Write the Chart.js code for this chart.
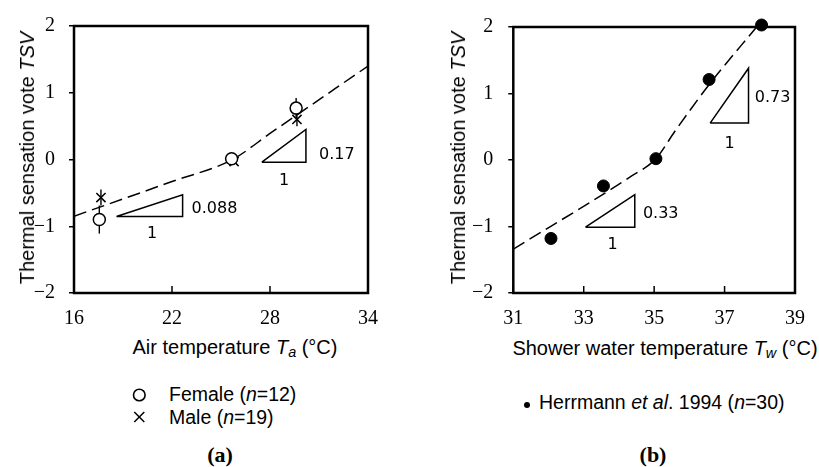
<!DOCTYPE html>
<html>
<head>
<meta charset="utf-8">
<script src="https://cdn.jsdelivr.net/npm/chart.js@4.4.1/dist/chart.umd.min.js"></script>
<style>
body { margin: 0; background: #fff; }
#wrap { position: relative; width: 819px; height: 467px; overflow: hidden; background: #fff; font-family: "Liberation Sans", Arial, sans-serif; color: #000; }
#cvA { position: absolute; left: 0; top: 0; }
#cvB { position: absolute; left: 410px; top: 0; }
.t { position: absolute; white-space: nowrap; line-height: 1; }
.ttl { font-size: 20px; }
.ytl { transform: translate(-50%, -50%) rotate(-90deg); }
.xtl { transform: translateX(-50%); }
.leg { font-size: 19.5px; }
.cap { font-family: "Liberation Serif", "Times New Roman", serif; font-weight: bold; font-size: 22px; transform: translateX(-50%); }
.sb { font-size: 0.72em; font-style: italic; vertical-align: -0.22em; }
</style>
</head>
<body>
<div id="wrap">
  <canvas id="cvA" width="410" height="330"></canvas>
  <canvas id="cvB" width="409" height="330"></canvas>

  <div class="t ttl ytl" style="left:26.5px; top:158px;">Thermal sensation vote <i>TSV</i></div>
  <div class="t ttl ytl" style="left:458px; top:158px;">Thermal sensation vote <i>TSV</i></div>
  <div class="t ttl xtl" style="left:235px; top:337px;">Air temperature <i>T</i><span class="sb">a</span> (°C)</div>
  <div class="t ttl xtl" style="left:665px; top:338px;">Shower water temperature <i>T</i><span class="sb">w</span> (°C)</div>

  <svg style="position:absolute; left:131px; top:387px;" width="17" height="40">
    <circle cx="8.3" cy="8" r="5.8" fill="none" stroke="#000" stroke-width="1.6"/>
    <line x1="3.3" y1="25" x2="13.3" y2="35" stroke="#000" stroke-width="1.5"/>
    <line x1="13.3" y1="25" x2="3.3" y2="35" stroke="#000" stroke-width="1.5"/>
  </svg>
  <div class="t leg" style="left:169px; top:385px;">Female (<i>n</i>=12)</div>
  <div class="t leg" style="left:169px; top:407.5px;">Male (<i>n</i>=19)</div>

  <div style="position:absolute; left:523.7px; top:401.7px; width:6.6px; height:6.6px; border-radius:50%; background:#000;"></div>
  <div class="t leg" style="left:539px; top:393px;">Herrmann <i>et al</i>. 1994 (<i>n</i>=30)</div>

  <div class="t cap" style="left:220px; top:444px;">(a)</div>
  <div class="t cap" style="left:653px; top:444px;">(b)</div>
</div>

<script>
// (a) air temperature
const femaleTa = [17.55, 25.65, 29.6];
const femaleTSV = [-0.9, 0.01, 0.77];
const femaleErr = [0.21, 0.03, 0.15];
const maleTa = [17.65, 25.8, 29.65];
const maleTSV = [-0.57, -0.03, 0.6];
const maleErr = [0.12, 0.03, 0.1];
const fitATa = [16, 22, 25.7, 28, 34];
const fitATSV = [-0.85, -0.33, 0, 0.39, 1.4];
const ticksTa = [16, 22, 28, 34];

// (b) shower water temperature
const waterTw = [32.07, 33.56, 35.05, 36.56, 38.05];
const waterTSV = [-1.18, -0.39, 0.02, 1.21, 2.03];
const fitBTw = [31, 34.3, 35.05, 35.6, 36.6, 37.91];
const fitBTSV = [-1.34, -0.26, 0.02, 0.44, 1.16, 2.0];
const ticksTw = [31, 33, 35, 37, 39];

const ticksTSV = [-2, -1, 0, 1, 2];

// slope triangles: [x start, y base, x end, y top]
const slopesA = [[18.6, -0.855, 22.65, -0.53], [27.5, -0.04, 30.2, 0.45]];
const slopesB = [[33.05, -1.01, 34.45, -0.52], [36.59, 0.555, 37.68, 1.38]];
// slope texts: [x, y, text, align]
const slopeTextA = [[23.2, -0.74, '0.088', 'left'], [20.78, -1.12, '1', 'center'],
                    [31.0, 0.07, '0.17', 'left'], [28.86, -0.32, '1', 'center']];
const slopeTextB = [[34.68, -0.81, '0.33', 'left'], [33.82, -1.27, '1', 'center'],
                    [37.86, 0.93, '0.73', 'left'], [37.14, 0.24, '1', 'center']];

function pts(xs, ys) {
  return xs.map((v, i) => ({x: v, y: ys[i]}));
}

function triangle(s) {
  return {
    data: [{x: s[0], y: s[1]}, {x: s[2], y: s[1]}, {x: s[2], y: s[3]}, {x: s[0], y: s[1]}],
    showLine: true, borderColor: '#000', borderWidth: 1.5, pointRadius: 0,
    fill: false, tension: 0, order: 5
  };
}

const framePlugin = {
  id: 'frame',
  beforeDatasetsDraw(chart, args, opts) {
    const {ctx, scales: {x, y}} = chart;
    ctx.save();
    ctx.strokeStyle = '#000';
    ctx.lineWidth = 1.4;
    (opts.errors || []).forEach(e => {
      e.xs.forEach((xv, i) => {
        const px = x.getPixelForValue(xv);
        ctx.beginPath();
        ctx.moveTo(px, y.getPixelForValue(e.ys[i] - e.err[i]));
        ctx.lineTo(px, y.getPixelForValue(e.ys[i] + e.err[i]));
        ctx.stroke();
      });
    });
    ctx.restore();
  },
  afterDraw(chart, args, opts) {
    const {ctx, chartArea: a, scales: {x, y}} = chart;
    ctx.save();
    ctx.strokeStyle = '#000';
    ctx.lineWidth = 1.5;
    opts.xTicks.forEach(v => {
      const px = x.getPixelForValue(v);
      ctx.beginPath();
      ctx.moveTo(px, a.bottom);
      ctx.lineTo(px, a.bottom - 7);
      ctx.stroke();
    });
    ctx.lineWidth = 2.5;
    ctx.strokeRect(a.left, a.top, a.right - a.left, a.bottom - a.top);
    ctx.font = '16px "DejaVu Sans"';
    ctx.fillStyle = '#000';
    ctx.textBaseline = 'middle';
    opts.labels.forEach(l => {
      ctx.textAlign = l[3];
      ctx.fillText(l[2], x.getPixelForValue(l[0]), y.getPixelForValue(l[1]));
    });
    ctx.restore();
  }
};

function axes(xMin, xMax, xTicks, yWidth, tickPad) {
  const tickFont = {family: '"Liberation Serif", "Times New Roman", serif', size: 20};
  return {
    x: {
      type: 'linear', min: xMin, max: xMax,
      afterBuildTicks: s => { s.ticks = xTicks.map(v => ({value: v})); },
      afterFit: s => { s.height = 330 - 293; },
      grid: {display: false, drawTicks: false},
      border: {display: false},
      ticks: {font: tickFont, color: '#000', padding: 14, maxRotation: 0, autoSkip: false}
    },
    y: {
      type: 'linear', min: -2, max: 2,
      afterBuildTicks: s => { s.ticks = ticksTSV.map(v => ({value: v})); },
      afterFit: s => { s.width = yWidth; },
      grid: {drawOnChartArea: false, drawTicks: true, tickLength: 5, color: '#000', lineWidth: 1.5},
      border: {display: false},
      ticks: {font: tickFont, color: '#000', padding: tickPad,
              callback: v => String(v).replace('-', '\u2212')}
    }
  };
}

const common = {
  responsive: false,
  animation: false,
  events: [],
  plugins: {legend: {display: false}, tooltip: {enabled: false}}
};

new Chart(document.getElementById('cvA'), {
  type: 'scatter',
  data: {
    datasets: [
      {label: 'Female (n=12)', data: pts(femaleTa, femaleTSV), pointStyle: 'circle', pointRadius: 6,
       pointBackgroundColor: '#fff', pointBorderColor: '#000', pointBorderWidth: 1.5, order: 1, clip: false},
      {label: 'Male (n=19)', data: pts(maleTa, maleTSV), pointStyle: 'crossRot', pointRadius: 6.5,
       pointBorderColor: '#000', pointBorderWidth: 1.5, order: 2, clip: false},
      {label: 'fit', data: pts(fitATa, fitATSV), showLine: true, borderColor: '#000', borderWidth: 1.5,
       borderDash: [13, 6], pointRadius: 0, cubicInterpolationMode: 'monotone', order: 3},
      triangle(slopesA[0]),
      triangle(slopesA[1])
    ]
  },
  options: Object.assign({}, common, {
    layout: {padding: {top: 17, right: 42, left: 0, bottom: 0}},
    scales: axes(16, 34, ticksTa, 74, 14),
    plugins: Object.assign({}, common.plugins, {
      frame: {
        xTicks: ticksTa,
        labels: slopeTextA,
        errors: [{xs: femaleTa, ys: femaleTSV, err: femaleErr}, {xs: maleTa, ys: maleTSV, err: maleErr}]
      }
    })
  }),
  plugins: [framePlugin]
});

new Chart(document.getElementById('cvB'), {
  type: 'scatter',
  data: {
    datasets: [
      {label: 'Herrmann et al. 1994 (n=30)', data: pts(waterTw, waterTSV), pointStyle: 'circle', pointRadius: 6,
       pointBackgroundColor: '#000', pointBorderColor: '#000', pointBorderWidth: 1, order: 1, clip: false},
      {label: 'fit', data: pts(fitBTw, fitBTSV), showLine: true, borderColor: '#000', borderWidth: 1.5,
       borderDash: [13, 6], pointRadius: 0, cubicInterpolationMode: 'monotone', order: 3},
      triangle(slopesB[0]),
      triangle(slopesB[1])
    ]
  },
  options: Object.assign({}, common, {
    layout: {padding: {top: 17, right: 12.3, left: 0, bottom: 0}},
    scales: axes(31, 39, ticksTw, 103.3, 15),
    plugins: Object.assign({}, common.plugins, {
      frame: {xTicks: ticksTw, labels: slopeTextB, errors: []}
    })
  }),
  plugins: [framePlugin]
});
</script>
</body>
</html>
